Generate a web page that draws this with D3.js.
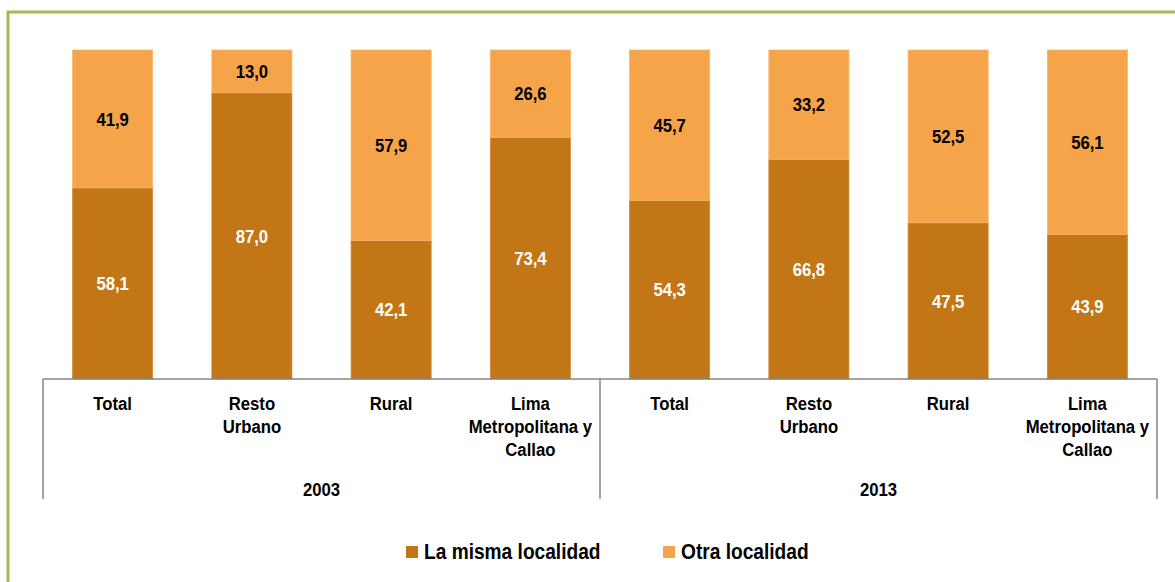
<!DOCTYPE html>
<html>
<head>
<meta charset="utf-8">
<script src="https://cdn.jsdelivr.net/npm/d3@7"></script>
<style>
  html, body { margin: 0; padding: 0; background: #fff; }
  svg { display: block; font-family: "Liberation Sans", Arial, sans-serif; }
</style>
</head>
<body>
<svg id="chart" width="1175" height="582"></svg>
<script>
// Place of residence by area, 2003 and 2013 (%)
const years = ["2003", "2013"];
const areas = ["Total", "Resto Urbano", "Rural", "Lima Metropolitana y Callao"];
const areaLines = [["Total"], ["Resto", "Urbano"], ["Rural"], ["Lima", "Metropolitana y", "Callao"]];
const misma = [58.1, 87.0, 42.1, 73.4, 54.3, 66.8, 47.5, 43.9];
const otra  = [41.9, 13.0, 57.9, 26.6, 45.7, 33.2, 52.5, 56.1];
const seriesNames = ["La misma localidad", "Otra localidad"];
const colors = ["#c27615", "#f6a449"];

const svg = d3.select("#chart");
const W = 1175, H = 582;
const plotLeft = 43, plotRight = 1157, plotTop = 50, plotBottom = 379;
const narrow = 0.88; // condensed bold lettering

// Frame
svg.append("rect")
  .attr("x", 8).attr("y", 12)
  .attr("width", W + 20).attr("height", H + 20)
  .attr("fill", "none").attr("stroke", "#9bbb59").attr("stroke-width", 3);

const keys = [];
years.forEach(yr => areas.forEach(a => keys.push(yr + "|" + a)));

const x = d3.scaleBand().domain(keys).range([plotLeft, plotRight])
  .paddingInner(0.425).paddingOuter(0.2125);
const y = d3.scaleLinear().domain([0, 100]).range([plotBottom, plotTop]);

const rows = keys.map((k, i) => ({ key: k, misma: misma[i], otra: otra[i] }));
const stack = d3.stack().keys(["misma", "otra"])(rows);

const fmt = v => d3.format(".1f")(v).replace(".", ",");
const place = (px, py, sx) => `translate(${px},${py}) scale(${sx},1)`;

stack.forEach((layer, li) => {
  const g = svg.append("g");
  g.selectAll("rect").data(layer).join("rect")
    .attr("x", d => x(d.data.key))
    .attr("y", d => y(d[1]))
    .attr("width", x.bandwidth())
    .attr("height", d => y(d[0]) - y(d[1]))
    .attr("fill", colors[li])
    .attr("stroke", li === 0 ? "#d08a35" : "#f8b56a")
    .attr("stroke-width", 0.8);
  g.selectAll("text").data(layer).join("text")
    .attr("transform", d => place(x(d.data.key) + x.bandwidth() / 2, (y(d[0]) + y(d[1])) / 2, narrow))
    .attr("dy", "0.35em")
    .attr("text-anchor", "middle")
    .attr("font-size", 19).attr("font-weight", "bold")
    .attr("fill", li === 0 ? "#ffffff" : "#000000")
    .text(d => fmt(d[1] - d[0]));
});

// Category axis with grouping
const axisColor = "#868686";
const axisG = svg.append("g").attr("stroke", axisColor).attr("stroke-width", 1.5);
axisG.append("line").attr("x1", plotLeft).attr("x2", plotRight).attr("y1", plotBottom).attr("y2", plotBottom);
const groupX = [plotLeft, (plotLeft + plotRight) / 2, plotRight];
groupX.forEach(gx => {
  axisG.append("line").attr("x1", gx).attr("x2", gx).attr("y1", plotBottom).attr("y2", 499);
});

keys.forEach((k, i) => {
  const lines = areaLines[i % areas.length];
  const t = svg.append("text")
    .attr("transform", place(x(k) + x.bandwidth() / 2, 410, narrow))
    .attr("text-anchor", "middle")
    .attr("font-size", 19).attr("font-weight", "bold").attr("fill", "#000");
  lines.forEach((ln, j) => {
    t.append("tspan").attr("x", 0).attr("y", j * 23).text(ln);
  });
});

years.forEach((yr, i) => {
  svg.append("text")
    .attr("transform", place((groupX[i] + groupX[i + 1]) / 2, 496, narrow))
    .attr("text-anchor", "middle")
    .attr("font-size", 19).attr("font-weight", "bold")
    .text(yr);
});

// Legend
const legendX = [406, 663];
seriesNames.forEach((name, i) => {
  svg.append("rect").attr("x", legendX[i]).attr("y", 546)
    .attr("width", 12).attr("height", 12).attr("fill", colors[i]);
  svg.append("text")
    .attr("transform", place(legendX[i] + 18, 559, 0.87))
    .attr("font-size", 22).attr("font-weight", "bold")
    .text(name);
});
</script>
</body>
</html>
